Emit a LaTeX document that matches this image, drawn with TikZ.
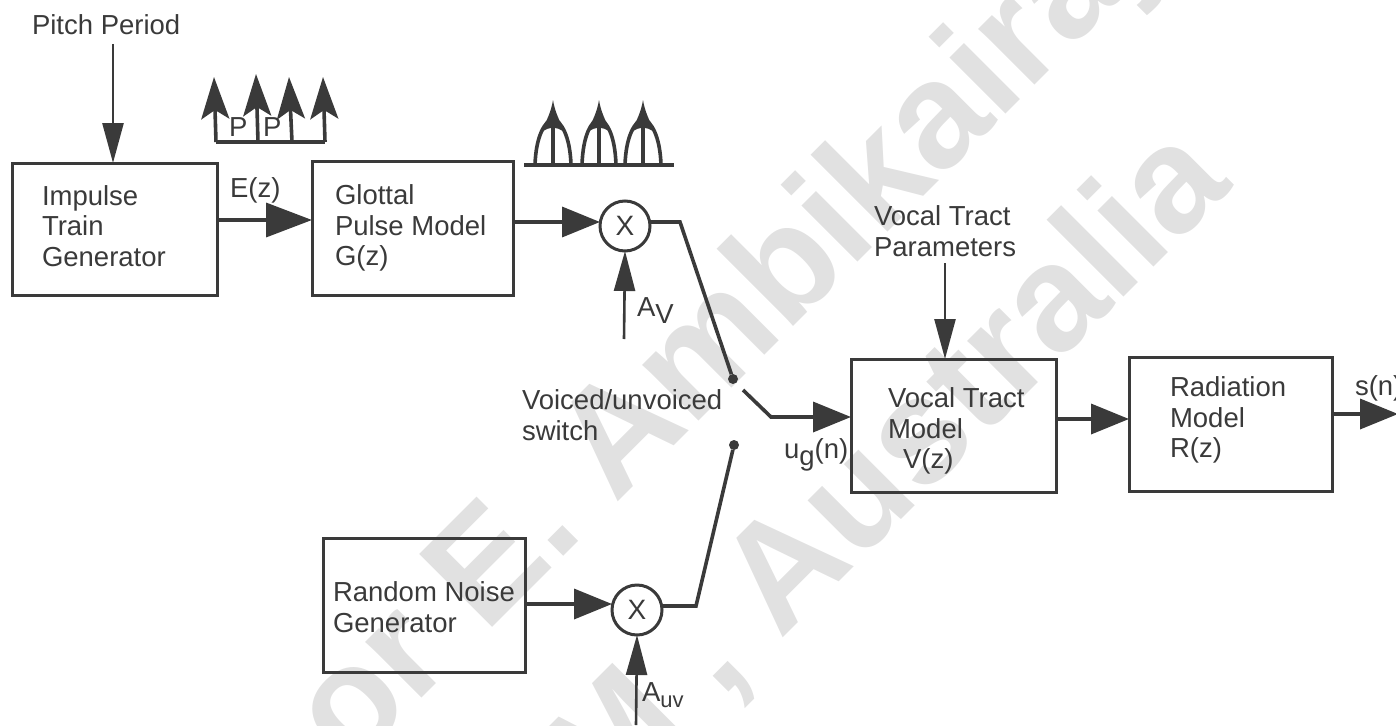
\documentclass[tikz,border=0pt]{standalone}
\usepackage{fontspec}
\setmainfont{Liberation Sans}
\usetikzlibrary{arrows.meta}
\definecolor{ink}{HTML}{3A3A3A}
\definecolor{wm}{HTML}{E1E1E1}
\tikzset{
  x=1pt,y=-1pt,
  block/.style={draw=ink,line width=3pt,inner sep=0pt,outer sep=0pt,fill=none},
  junction/.style={draw=ink,line width=3pt,circle,minimum size=50pt,inner sep=0pt,outer sep=0pt,text=ink,font=\fontsize{28}{30}\selectfont},
  lab/.style={anchor=west,inner sep=0pt,outer sep=0pt,text=ink,align=left,font=\fontsize{27.5}{30.5}\selectfont},
  conn/.style={draw=ink,line width=3.6pt,line join=miter},
  thin conn/.style={draw=ink,line width=2.6pt},
  big/.style={-{Triangle[length=46pt,width=34pt,fill=ink]}},
  mid/.style={-{Triangle[length=38pt,width=30pt,fill=ink]}},
  small/.style={-{Triangle[length=40pt,width=21pt,fill=ink]}},
  term/.style={circle,fill=ink,minimum size=10pt,inner sep=0pt,outer sep=0pt},
  mark head/.style={-{Stealth[length=42pt,width=28pt,inset=9pt,fill=ink]}},
  wmark/.style={text=wm,inner sep=0pt,outer sep=0pt,anchor=base west,rotate=45,font=\fontsize{150}{155}\selectfont\bfseries},
}
\begin{document}
\begin{tikzpicture}
\useasboundingbox (0,0) rectangle (1396,725);
\begin{scope}
\clip (0,0) rectangle (1396,725);
\node[wmark] (wmone) at (350,770) {or E. Ambikairaj};
\node[wmark] (wmtwo) at (604,817) {M , Australia};
\end{scope}

% blocks
\node[block,minimum width=205pt,minimum height=132pt] (imp) at (114.5,229) {};
\node[block,minimum width=201pt,minimum height=134pt] (glot) at (412.5,228) {};
\node[block,minimum width=202pt,minimum height=134pt] (noise) at (424,605) {};
\node[block,minimum width=205pt,minimum height=133pt] (tract) at (953.5,425.5) {};
\node[block,minimum width=203pt,minimum height=134pt] (rad) at (1230.5,424) {};
\node[junction] (mulv) at (625,226) {X};
\node[junction] (mulu) at (637,610) {X};
\node[term] (tv) at (733,379) {};
\node[term] (tu) at (734,445) {};

% free ends
\coordinate (pitchstart) at (113,44);
\coordinate (avstart) at (624,339);
\coordinate (auvstart) at (636,725);
\coordinate (vtpstart) at (945,263);
\coordinate (outend) at (1398,414);
\coordinate (bendv) at (680,222);
\coordinate (bendu) at (696,606);
\coordinate (bladetop) at (743,390);
\coordinate (bladebend) at (771,417);

% labels
\node[lab] (pitchlab) at (32,25) {Pitch Period};
\node[lab] (implab) at (42,226) {Impulse\\Train\\Generator};
\node[lab] (glotlab) at (335,228) {Glottal\\Pulse Model\\G(z)};
\node[lab] (ezlab) at (230,190) {E(z)};
\node[lab] (avlab) at (637,311) {A\raisebox{-7pt}{V}};
\node[lab] (vtplab) at (874,231) {Vocal Tract\\Parameters};
\node[lab] (swlab) at (522,415) {Voiced/unvoiced\\switch};
\node[lab] (uglab) at (784,455) {u\raisebox{-7pt}{g}(n)};
\node[lab] (tractlab) at (888,431) {Vocal Tract\\Model\\\hspace*{15pt}V(z)};
\node[lab] (radlab) at (1170,420) {Radiation\\Model\\R(z)};
\node[lab] (snlab) at (1355,388) {s(n)};
\node[lab] (noiselab) at (333,607) {Random Noise\\Generator};
\node[lab] (auvlab) at (642,695) {A\raisebox{-6pt}{\fontsize{22}{24}\selectfont uv}};

% connectors
\draw[thin conn,small] (pitchstart) -- (pitchstart |- imp.north);
\draw[conn,big] (imp.east |- 0,220) -- (glot.west |- 0,220);
\draw[conn,mid] (glot.east |- 0,222) -- (mulv.west |- 0,222);
\draw[conn] (mulv.east |- bendv) -- (bendv) -- (tv);
\draw[thin conn,small] (avstart) -- (mulv.south);
\draw[conn,mid] (bladetop) -- (bladebend) -- (tract.west |- bladebend);
\draw[conn] (tu) -- (bendu) -- (mulu.east |- bendu);
\draw[conn,mid] (noise.east |- 0,604) -- (mulu.west |- 0,604);
\draw[thin conn,small] (auvstart) -- (mulu.south);
\draw[thin conn,small] (vtpstart) -- (vtpstart |- tract.north);
\draw[conn,mid] (tract.east |- 0,419) -- (rad.west |- 0,419);
\draw[conn,mid] (rad.east |- outend) -- (outend);

% impulse train sketch
\coordinate (pa) at (216,142); \coordinate (pb) at (258,142);
\coordinate (pc) at (292,142); \coordinate (pd) at (325,142);
\draw[conn] (pa) -- (pd);
\draw[conn,mark head] (pa) -- (214,77);
\draw[conn,mark head] (pb) -- (256,74);
\draw[conn,mark head] (pc) -- (289,77);
\draw[conn,mark head] (pd) -- (323,77);
\node[lab] (pone) at (229,127) {P};
\node[lab] (ptwo) at (263,127) {P};

% glottal pulse sketch
\draw[conn] (524,165) -- (674,165);
\foreach \c/\w in {553/18,599/17,643/18}{
  \draw[conn] (\c,165) -- (\c,125);
  \draw[conn] (\c-\w,165) .. controls (\c-\w+1,135) and (\c-8,122) .. (\c,118) .. controls (\c+8,122) and (\c+\w-1,135) .. (\c+\w,165);
  \fill[ink] (\c,100) .. controls (\c-2,112) and (\c-6,120) .. (\c-13,134) .. controls (\c-7,128) and (\c-3,128) .. (\c,128) .. controls (\c+3,128) and (\c+7,128) .. (\c+13,134) .. controls (\c+6,120) and (\c+2,112) .. (\c,100) -- cycle;
}
\end{tikzpicture}
\end{document}
